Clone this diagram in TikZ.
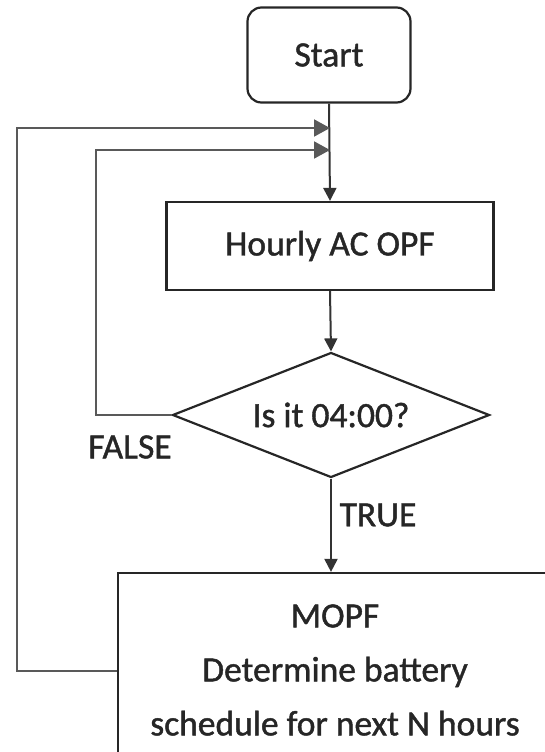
\documentclass[tikz,border=0pt]{standalone}
\usepackage{fontspec}
\setmainfont{Carlito}[FakeBold=1.2]
\usetikzlibrary{shapes.geometric,arrows.meta}
\begin{document}
\begin{tikzpicture}[x=1pt,y=-1pt,
  every node/.style={font=\fontsize{35.5}{54}\selectfont, text=black!85},
  boxline/.style={draw=black!85, line width=2.2pt},
  conn/.style={draw=black!65, line width=2pt},
  bigtip/.style={-{Triangle[length=16pt,width=17pt]}},
  smalltip/.style={-{Triangle[length=13pt,width=13pt]}},
  lbl/.style={inner sep=0pt}]
\useasboundingbox (0,0) rectangle (545,752);
\clip (0,0) rectangle (545,752);
\node[boxline, rounded corners=14pt, minimum width=163pt, minimum height=95pt, inner sep=0pt] (start) at (329,55) {Start};
\node[boxline, minimum width=327pt, minimum height=88pt, inner sep=0pt] (opf) at (330,246) {Hourly AC OPF};
\node[boxline, diamond, aspect=2.54, minimum width=317pt, minimum height=125pt, inner sep=0pt] (dec) at (331,415) {Is it 04:00?};
\node[boxline, minimum width=434pt, minimum height=194pt, inner sep=0pt, align=center] (mopf) at (335,670) {MOPF\\Determine battery\\schedule for next N hours};
\coordinate (j1) at (330,128);
\coordinate (j2) at (330,150);
\coordinate (l1) at (17,128);
\coordinate (l2) at (96,150);
\draw[conn, draw=black!80, smalltip] (start.south) -- (opf.north);
\draw[conn, draw=black!80, smalltip] (opf.south) -- (dec.north);
\draw[conn, draw=black!80, smalltip] (dec.south) -- (mopf.north -| dec.south);
\draw[conn, bigtip] (mopf.west |- 0,671) -- (17,671) -- (l1) -- (j1);
\draw[conn, bigtip] (dec.west) -- (96,415) -- (l2) -- (j2);
\node[lbl] (false) at (130,447) {FALSE};
\node[lbl] (true) at (378,515) {TRUE};
\end{tikzpicture}
\end{document}
